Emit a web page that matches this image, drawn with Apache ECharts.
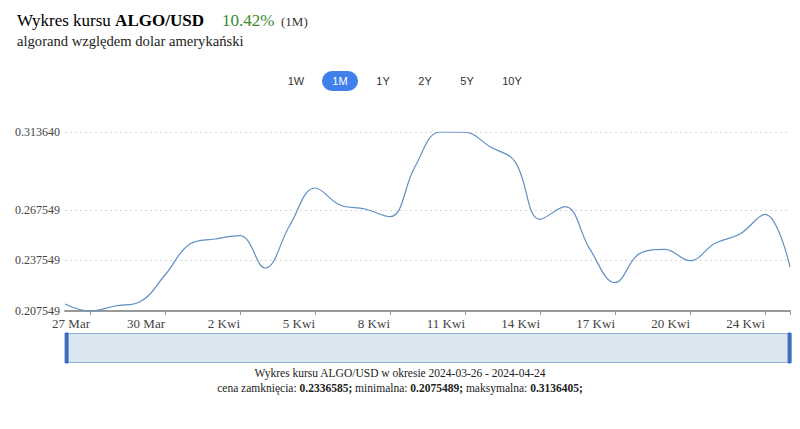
<!DOCTYPE html>
<html>
<head>
<meta charset="utf-8">
<script src="https://cdn.jsdelivr.net/npm/echarts@6/dist/echarts.min.js"></script>
<style>
html,body{margin:0;padding:0;background:#fff;}
#chart{width:800px;height:429px;}
</style>
</head>
<body>
<div id="chart"></div>
<script>
var dates = ['2024-03-26','2024-03-27','2024-03-28','2024-03-29','2024-03-30','2024-03-31',
  '2024-04-01','2024-04-02','2024-04-03','2024-04-04','2024-04-05','2024-04-06','2024-04-07',
  '2024-04-08','2024-04-09','2024-04-10','2024-04-11','2024-04-12','2024-04-13','2024-04-14',
  '2024-04-15','2024-04-16','2024-04-17','2024-04-18','2024-04-19','2024-04-20','2024-04-21',
  '2024-04-22','2024-04-23','2024-04-24'];
var prices = [0.21170,0.2075489,0.21051,0.21306,0.22889,0.24726,0.25022,0.25224,0.23304,0.25852,
  0.28045,0.27038,0.26801,0.26344,0.29308,0.3136405,0.31350,0.30493,0.29604,0.26190,
  0.26937,0.24412,0.22432,0.24175,0.24412,0.23736,0.24768,0.25319,0.26486,0.2336585];
var xTickDates = ['2024-03-27','2024-03-30','2024-04-02','2024-04-05','2024-04-08','2024-04-11',
  '2024-04-14','2024-04-17','2024-04-20','2024-04-23'];
var xTickLabels = ['27 Mar','30 Mar','2 Kwi','5 Kwi','8 Kwi','11 Kwi','14 Kwi','17 Kwi','20 Kwi','24 Kwi'];
var yTicks = [0.207549, 0.237549, 0.267549, 0.313640];
var rangeButtons = ['1W','1M','1Y','2Y','5Y','10Y'];
var activeRange = '1M';
var changePct = '10.42%';
var closePrice = '0.2336585', minPrice = '0.2075489', maxPrice = '0.3136405';

var serif = '"Liberation Serif", "DejaVu Serif", serif';
var sans = '"Liberation Sans", "DejaVu Sans", sans-serif';

var chart = echarts.init(document.getElementById('chart'), null, {renderer: 'svg'});

var btnX = [296, 340, 383, 425, 467, 512];
var btnGraphics = [];
rangeButtons.forEach(function (b, i) {
  if (b === activeRange) {
    btnGraphics.push({type: 'rect', left: btnX[i] - 18, top: 71,
      shape: {width: 36, height: 20, r: 10}, style: {fill: '#3f80ea'}});
  }
  btnGraphics.push({type: 'text', x: btnX[i], y: 81,
    style: {text: b, font: '11px ' + sans, fill: b === activeRange ? '#fff' : '#333',
      align: 'center', verticalAlign: 'middle'}});
});

var option = {
  animation: false,
  backgroundColor: '#fff',
  grid: {left: 65, right: 10, top: 132, bottom: 118, containLabel: false},
  xAxis: {
    type: 'category',
    data: dates,
    boundaryGap: false,
    axisLine: {lineStyle: {color: '#999', width: 2}},
    axisTick: {
      length: 4, lineStyle: {color: '#999'},
      interval: function (idx, val) { return xTickDates.indexOf(val) >= 0 || idx === dates.length - 1; }
    },
    axisLabel: {
      interval: function (idx, val) { return xTickDates.indexOf(val) >= 0; },
      formatter: function (val) { var k = xTickDates.indexOf(val); return k >= 0 ? xTickLabels[k] : ''; },
      align: 'right', margin: 6,
      color: '#444', fontFamily: serif, fontSize: 13
    },
    splitLine: {show: false}
  },
  yAxis: {
    type: 'value',
    min: yTicks[0],
    max: yTicks[yTicks.length - 1],
    axisLine: {show: false},
    axisTick: {show: false, customValues: yTicks},
    axisLabel: {
      customValues: yTicks,
      formatter: function (v) { return v.toFixed(6); },
      color: '#444', fontFamily: serif, fontSize: 12, margin: 5
    },
    splitLine: {lineStyle: {color: '#d8d8d8', type: [2, 3], width: 1}}
  },
  dataZoom: [{
    type: 'slider',
    xAxisIndex: 0,
    start: 0, end: 100,
    left: 65, right: 10, top: 333, height: 30,
    showDetail: false,
    showDataShadow: false,
    brushSelect: false,
    moveHandleSize: 0,
    backgroundColor: '#dbe6f1',
    fillerColor: '#dbe6f1',
    borderColor: '#8fb0d8',
    handleIcon: 'path://M0,0 L3,0 L3,30 L0,30 Z',
    handleSize: '100%',
    handleStyle: {color: '#3b70b5', borderColor: '#3b70b5'},
    dataBackground: {lineStyle: {opacity: 0}, areaStyle: {opacity: 0}}
  }],
  series: [{
    type: 'line',
    data: prices,
    smooth: 0.4,
    showSymbol: false,
    lineStyle: {color: '#5f8fc4', width: 1.2},
    itemStyle: {color: '#5f8fc4'}
  }],
  graphic: [
    {type: 'text', x: 17, y: 12,
      style: {text: '{a|Wykres kursu }{b|ALGO/USD}', font: '17px ' + serif,
        rich: {a: {fontFamily: serif, fontSize: 17, color: '#222'},
               b: {fontFamily: serif, fontSize: 17, fontWeight: 'bold', color: '#222'}}}},
    {type: 'text', x: 222, y: 12,
      style: {text: changePct, font: '17px ' + serif, fill: '#3a8a2e'}},
    {type: 'text', x: 281, y: 15,
      style: {text: '(' + activeRange + ')', font: '13px ' + serif, fill: '#333'}},
    {type: 'text', x: 17, y: 33,
      style: {text: 'algorand względem dolar amerykański', font: '14.6px ' + serif, fill: '#222'}},
    {type: 'text', x: 400, y: 367,
      style: {text: 'Wykres kursu ALGO/USD w okresie ' + dates[0] + ' - ' + dates[dates.length - 1],
        font: '11.5px ' + serif, fill: '#222', align: 'center'}},
    {type: 'text', x: 400, y: 382,
      style: {text: '{n|cena zamknięcia: }{b|' + closePrice + ';}{n| minimalna: }{b|' + minPrice +
        ';}{n| maksymalna: }{b|' + maxPrice + ';}',
        font: '11.5px ' + serif, fill: '#222', align: 'center',
        rich: {n: {fontFamily: serif, fontSize: 11.5, color: '#222'},
               b: {fontFamily: serif, fontSize: 11.5, fontWeight: 'bold', color: '#222'}}}}
  ].concat(btnGraphics)
};
chart.setOption(option);
</script>
</body>
</html>
